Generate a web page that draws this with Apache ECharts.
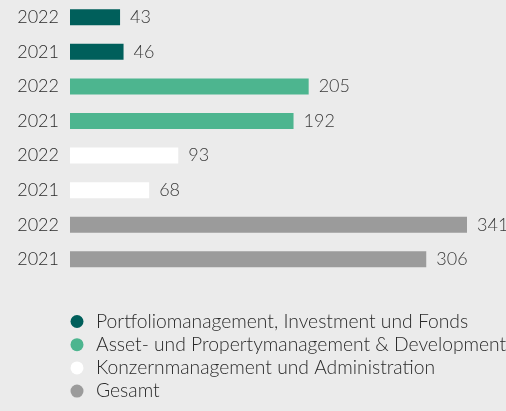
<!DOCTYPE html>
<html>
<head>
<meta charset="utf-8">
<script src="https://cdn.jsdelivr.net/npm/echarts@6/dist/echarts.min.js"></script>
<style>
  html, body { margin: 0; padding: 0; background: #ebebeb; }
  #chart { width: 506px; height: 411px; }
</style>
</head>
<body>
<div id="chart"></div>
<script>
// Segment names (legend order)
const segments = [
  'Portfoliomanagement, Investment und Fonds',
  'Asset- und Propertymanagement & Development',
  'Konzernmanagement und Administration',
  'Gesamt'
];
// Years shown per segment, top to bottom
const years = ['2022', '2021'];
// Values per segment: [2022, 2021]
const valuesPIF = [43, 46];
const valuesAPM = [205, 192];
const valuesKMA = [93, 68];
const valuesTotal = [341, 306];

const colors = ['#005f5b', '#4db58f', '#ffffff', '#9b9b9b'];
const segmentValues = [valuesPIF, valuesAPM, valuesKMA, valuesTotal];
const font = 'Lato';

// One category per bar row; the row key maps back to its year label
const rowKeys = [];
const rowYears = [];
segments.forEach((s, si) => {
  years.forEach((y) => {
    rowKeys.push(si + '-' + y);
    rowYears.push(y);
  });
});

const series = segments.map((name, si) => {
  const data = rowKeys.map((k, ri) => {
    const seg = Math.floor(ri / years.length);
    return seg === si ? segmentValues[si][ri % years.length] : null;
  });
  return {
    name: name,
    type: 'bar',
    stack: 'rows',
    barWidth: 16,
    data: data,
    itemStyle: { color: colors[si] },
    label: {
      show: true,
      position: 'right',
      distance: 10,
      color: '#3a3a3a',
      fontFamily: font,
      fontWeight: 300,
      fontSize: 18,
      formatter: p => (p.value == null ? '' : p.value)
    }
  };
});

const chart = echarts.init(document.getElementById('chart'));
chart.setOption({
  backgroundColor: '#ebebeb',
  animation: false,
  grid: { left: 70, right: 39, top: -1, height: 277.6, containLabel: false },
  xAxis: {
    type: 'value',
    min: 0,
    max: 341,
    show: false
  },
  yAxis: {
    type: 'category',
    inverse: true,
    data: rowKeys,
    axisLine: { show: false },
    axisTick: { show: false },
    axisLabel: {
      color: '#2a2a2a',
      fontFamily: font,
      fontWeight: 300,
      fontSize: 18,
      margin: 11,
      formatter: (v, i) => rowYears[i]
    }
  },
  legend: {
    orient: 'vertical',
    left: 70.5,
    top: 312,
    padding: 0,
    itemGap: 4.2,
    itemWidth: 13,
    itemHeight: 13,
    icon: 'circle',
    selectedMode: false,
    data: segments,
    textStyle: {
      color: '#2a2a2a',
      fontFamily: font,
      fontWeight: 300,
      fontSize: 19.3,
      lineHeight: 19,
      padding: [0, 0, 0, 7.5]
    }
  },
  series: series
});
</script>
</body>
</html>
